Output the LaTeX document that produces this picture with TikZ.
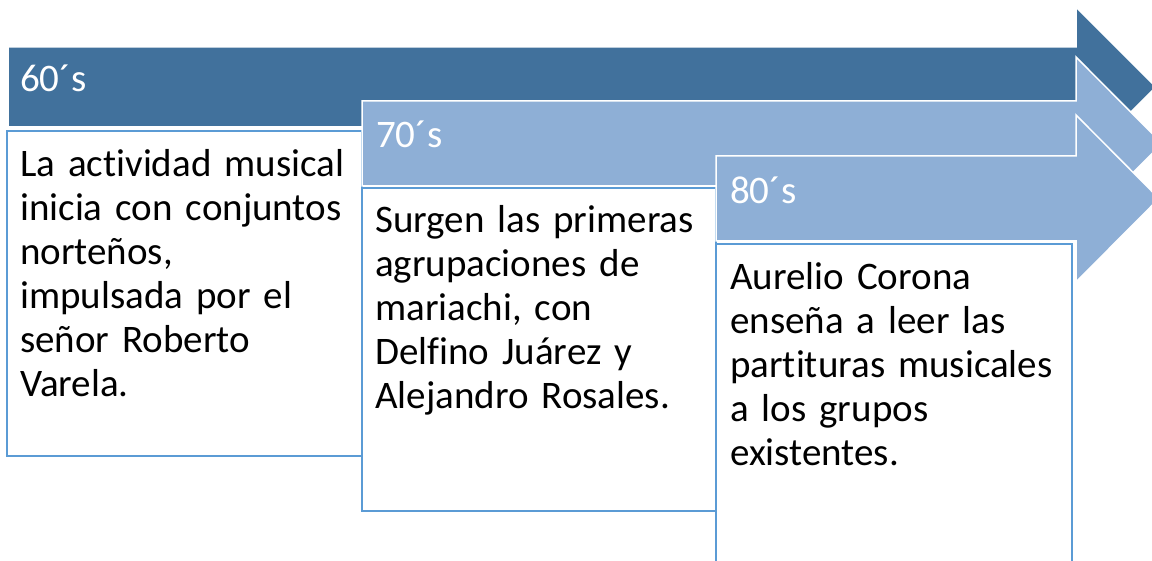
\documentclass[tikz,border=0pt]{standalone}
\usepackage{fontspec}
\setmainfont{Carlito}[Ligatures={NoCommon}]
\usepackage{tikz}
\definecolor{darkarrow}{HTML}{41719C}
\definecolor{lightarrow}{HTML}{8EAFD6}
\definecolor{boxline}{HTML}{5B9BD5}

\begin{document}
\begin{tikzpicture}[x=1pt,y=-1pt]
    \tikzstyle{era_arrow}=[draw=white,line width=1.5pt,line join=miter]
    \tikzstyle{era_box}=[draw=boxline,fill=white,line width=2.2pt]
    \tikzstyle{era_label}=[anchor=base west,inner sep=0pt,text=white,font=\fontsize{39}{44}\selectfont]
    \tikzstyle{era_text}=[anchor=base west,inner sep=0pt,text width=345pt,align=left,font=\fontsize{39}{44}\selectfont]
    \clip (0,0) rectangle (1152,561);

    % 60's
    \fill[darkarrow,era_arrow] (8,47) -- (1076,47) -- (1076,7) -- (1156,87) -- (1076,167) -- (1076,127) -- (8,127) -- cycle;
    \node[era_label] (l60) at (20,92) {60´s};
    \draw[era_box] (7,131) rectangle (362,456);
    \node[era_text] (t60) at (20,177) {La actividad musical\\inicia con conjuntos\\norteños,\\impulsada por el\\señor Roberto\\Varela.};

    % 70's
    \fill[lightarrow,era_arrow] (362,101) -- (1076,101) -- (1076,57) -- (1162,143.5) -- (1076,230) -- (1076,186) -- (362,186) -- cycle;
    \node[era_label] (l70) at (376,148) {70´s};
    \draw[era_box] (362,188) rectangle (716,511);
    \node[era_text] (t70) at (375,233) {Surgen las primeras\\agrupaciones de\\mariachi, con\\Delfino Juárez y\\Alejandro Rosales.};

    % 80's
    \fill[lightarrow,era_arrow] (716,156) -- (1076,156) -- (1076,115) -- (1159,198.5) -- (1076,282) -- (1076,241) -- (716,241) -- cycle;
    \node[era_label] (l80) at (730,204) {80´s};
    \draw[era_box] (716,244) rectangle (1072,600);
    \node[era_text] (t80) at (730,290) {Aurelio Corona\\enseña a leer las\\partituras musicales\\a los grupos\\existentes.};
\end{tikzpicture}
\end{document}
